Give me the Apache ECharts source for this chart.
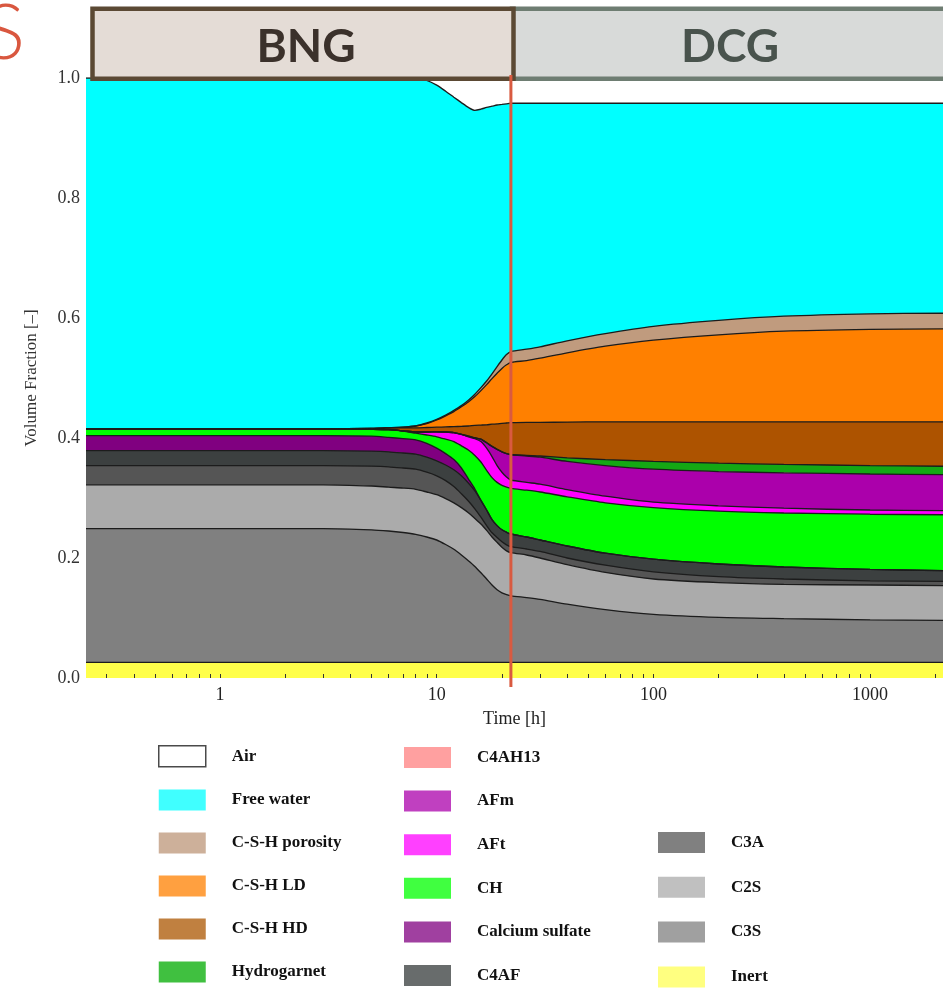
<!DOCTYPE html>
<html>
<head>
<meta charset="utf-8">
<title>Volume fractions of cement paste phases</title>
<script src="https://cdn.jsdelivr.net/npm/echarts@6/dist/echarts.min.js"></script>
<style>
  html, body { margin: 0; padding: 0; background: #ffffff; }
  #chart { width: 943px; height: 988px; }
</style>
</head>
<body>
<div id="chart"></div>
<script>
// Hydration time [h] at which the phase boundaries are sampled
const time = [0.2408, 1, 3, 5, 6, 7, 8, 9, 10, 11, 12, 13, 14, 15, 16, 17, 18, 19, 20, 21, 22, 26, 30, 40, 60, 100, 200, 400, 1000, 2170];

// Cumulative volume fraction at the upper edge of each phase layer
// (phases stacked from Inert at the bottom up to Air at the top)
const topInert        = [.026,.026,.026,.026,.026,.026,.026,.026,.026,.026,.026,.026,.026,.026,.026,.026,.026,.026,.026,.026,.026,.026,.026,.026,.026,.026,.026,.026,.026,.026];
const topC3S          = [.249,.249,.249,.247,.245,.2425,.2395,.235,.230,.2225,.2145,.205,.1955,.186,.1755,.165,.155,.147,.142,.139,.137,.134,.131,.123,.114,.106,.101,.099,.097,.096];
const topC2S          = [.322,.322,.322,.320,.318,.3165,.3145,.310,.3055,.299,.292,.284,.2755,.266,.2567,.246,.235,.226,.218,.212,.209,.205,.200,.189,.176,.165,.159,.156,.155,.154];
const topC3A          = [.354,.354,.354,.353,.352,.350,.348,.343,.337,.329,.319,.307,.295,.282,.268,.254,.242,.234,.227,.222,.219,.215,.211,.200,.188,.177,.169,.165,.162,.161];
const topC4AF         = [.379,.379,.379,.378,.377,.375,.373,.368,.362,.355,.347,.337,.325,.312,.296,.280,.264,.254,.247,.243,.240,.235,.230,.220,.208,.198,.190,.185,.181,.179];
const topCaSulfate    = [.404,.404,.404,.403,.401,.399,.397,.391,.383,.374,.364,.350,.332,.315,.296,.280,.264,.254,.247,.243,.240,.235,.230,.220,.208,.198,.190,.185,.181,.179];
const topCH           = [.415,.415,.415,.4145,.414,.4115,.408,.405,.402,.398,.394,.387,.380,.371,.360,.346,.334,.326,.321,.318,.316,.313,.310,.302,.292,.284,.278,.275,.273,.272];
const topAFt          = [.415,.415,.415,.4145,.414,.412,.410,.410,.4105,.410,.409,.406,.402,.399,.394,.383,.369,.354,.343,.335,.330,.326,.323,.314,.303,.293,.287,.283,.280,.279];
const topAFm          = [.415,.415,.415,.4145,.414,.412,.410,.410,.4105,.410,.409,.406,.403,.4005,.398,.392,.386,.381,.377,.374,.372,.370,.368,.361,.354,.348,.344,.342,.340,.339];
const topHydrogarnet  = [.415,.415,.415,.4145,.414,.412,.410,.410,.4105,.410,.409,.406,.403,.4005,.398,.392,.386,.381,.377,.374,.3725,.371,.370,.367,.364,.361,.358,.356,.354,.353];
const topCshHD        = [.415,.415,.415,.416,.417,.417,.417,.4175,.418,.4185,.419,.4195,.420,.421,.4215,.422,.423,.4235,.4245,.425,.4255,.426,.426,.4265,.427,.427,.427,.427,.427,.427];
const topCshLD        = [.415,.415,.415,.416,.417,.418,.420,.424,.430,.437,.444,.452,.460,.469,.479,.489,.499,.508,.516,.522,.526,.529,.533,.542,.553,.563,.572,.578,.581,.582];
const topCshPorosity  = [.415,.415,.415,.416,.417,.418,.420,.425,.431,.438,.446,.454,.463,.473,.484,.495,.507,.519,.530,.539,.544,.548,.552,.562,.574,.586,.596,.603,.607,.608];
const topFreeWater    = [1,1,1,1,1,1,1,.996,.988,.978,.968,.959,.951,.946,.948,.951,.953,.955,.956,.957,.958,.958,.958,.958,.958,.958,.958,.958,.958,.958];
const topAir          = [1,1,1,1,1,1,1,1,1,1,1,1,1,1,1,1,1,1,1,1,1,1,1,1,1,1,1,1,1,1];
// C4AH13 holds no volume: its layer sits directly on top of AFm
const topC4AH13       = topAFm;

// Axis ticks and labels
const timeTickValues  = [0.3,0.4,0.5,0.6,0.7,0.8,0.9,1,2,3,4,5,6,7,8,9,10,20,30,40,50,60,70,80,90,100,200,300,400,500,600,700,800,900,1000,2000];
const timeLabelValues = [1, 10, 100, 1000];
const stageChange = 22;   // end of the BNG stage [h]

// Legend columns
const legendCol1 = ['Air', 'Free water', 'C-S-H porosity', 'C-S-H LD', 'C-S-H HD', 'Hydrogarnet'];
const legendCol2 = ['C4AH13', 'AFm', 'AFt', 'CH', 'Calcium sulfate', 'C4AF'];
const legendCol3 = ['C3A', 'C2S', 'C3S', 'Inert'];

// Layers in drawing order: the top layer first, each later one painted over it
const layers = [
  { name: 'Air',             top: topAir,          fill: '#ffffff', swatch: '#ffffff', line: false },
  { name: 'Free water',      top: topFreeWater,    fill: '#00ffff', swatch: '#40ffff', line: true },
  { name: 'C-S-H porosity',  top: topCshPorosity,  fill: '#c09b7e', swatch: '#cdb09a', line: true },
  { name: 'C-S-H LD',        top: topCshLD,        fill: '#ff8000', swatch: '#ffa040', line: true },
  { name: 'C-S-H HD',        top: topCshHD,        fill: '#ad5300', swatch: '#c08040', line: true },
  { name: 'Hydrogarnet',     top: topHydrogarnet,  fill: '#14a814', swatch: '#40c040', line: true },
  { name: 'C4AH13',          top: topC4AH13,       fill: '#ff8080', swatch: '#ffa0a0', line: false },
  { name: 'AFm',             top: topAFm,          fill: '#ab00ab', swatch: '#c040c0', line: true },
  { name: 'AFt',             top: topAFt,          fill: '#ff00ff', swatch: '#ff40ff', line: true },
  { name: 'CH',              top: topCH,           fill: '#00ff00', swatch: '#40ff40', line: true },
  { name: 'Calcium sulfate', top: topCaSulfate,    fill: '#800080', swatch: '#a040a0', line: true },
  { name: 'C4AF',            top: topC4AF,         fill: '#3c4040', swatch: '#686c6c', line: true },
  { name: 'C3A',             top: topC3A,          fill: '#555555', swatch: '#808080', line: true },
  { name: 'C2S',             top: topC2S,          fill: '#ababab', swatch: '#c0c0c0', line: true },
  { name: 'C3S',             top: topC3S,          fill: '#808080', swatch: '#a0a0a0', line: true },
  { name: 'Inert',           top: topInert,        fill: '#ffff4a', swatch: '#ffff80', line: true }
];

const serif = 'Liberation Serif';
const swatchOf = {};
layers.forEach(l => { swatchOf[l.name] = l.swatch; });

function legendData(names) {
  return names.map(n => ({
    name: n,
    icon: 'rect',
    itemStyle: n === 'Air'
      ? { color: '#ffffff', borderColor: '#4a4a4a', borderWidth: 1.5 }
      : { color: swatchOf[n], borderWidth: 0 }
  }));
}

function legendBlock(names, left, top, gap) {
  return {
    orient: 'vertical',
    left: left,
    top: top,
    padding: 0,
    itemWidth: 47,
    itemHeight: 21,
    itemGap: gap,
    selectedMode: false,
    itemStyle: { borderWidth: 0 },
    textStyle: {
      fontFamily: serif,
      fontWeight: 'bold',
      fontSize: 17,
      color: '#111111',
      padding: [0, 0, 0, 21]
    },
    data: legendData(names)
  };
}

const series = layers.map(l => ({
  type: 'line',
  name: l.name,
  data: time.map((t, i) => [t, l.top[i]]),
  symbol: 'none',
  smooth: 0.25,
  silent: true,
  color: l.fill,
  lineStyle: { color: '#1c1c1c', width: l.line ? 1.35 : 0, opacity: l.line ? 1 : 0 },
  areaStyle: { color: l.fill, opacity: 1, origin: 'start' }
}));

const chart = echarts.init(document.getElementById('chart'), null, { renderer: 'canvas' });

const option = {
  animation: false,
  backgroundColor: '#ffffff',
  grid: { left: 86, right: 0, top: 78, bottom: 310, outerBoundsMode: 'none', containLabel: false },
  xAxis: {
    type: 'log',
    logBase: 10,
    min: time[0],
    max: time[time.length - 1],
    z: 10,
    axisLine: { show: false },
    axisTick: {
      show: true,
      inside: true,
      length: 4,
      customValues: timeTickValues,
      lineStyle: { color: '#333333', width: 1 }
    },
    minorTick: { show: false },
    splitLine: { show: false },
    axisLabel: {
      customValues: timeLabelValues,
      formatter: v => String(Math.round(v)),
      fontFamily: serif,
      fontSize: 18,
      color: '#222222',
      margin: 8
    },
    name: 'Time [h]',
    nameLocation: 'middle',
    nameGap: 32,
    nameTextStyle: { fontFamily: serif, fontSize: 18, color: '#222222' }
  },
  yAxis: {
    type: 'value',
    min: 0,
    max: 1,
    interval: 0.2,
    z: 10,
    axisLine: { show: false },
    axisTick: { show: false },
    splitLine: { show: false },
    axisLabel: {
      formatter: v => v.toFixed(1),
      fontFamily: serif,
      fontSize: 18,
      color: '#333333',
      margin: 6
    },
    name: 'Volume Fraction [–]',
    nameLocation: 'middle',
    nameGap: 46,
    nameTextStyle: { fontFamily: serif, fontSize: 17, color: '#333333' }
  },
  legend: [
    legendBlock(legendCol1, 158, 745, 22),
    legendBlock(legendCol2, 404, 747, 22.6),
    legendBlock(legendCol3, 658, 832, 23.8)
  ],
  graphic: [
    {
      id: 'titleTail', type: 'text', z: 100, x: 25, y: 34,
      style: { text: 'S', font: '300 76px Lato', fill: '#d9573f', align: 'right', verticalAlign: 'middle' }
    },
    {
      id: 'dcgBox', type: 'rect', z: 100,
      shape: { x: 512, y: 8.7, width: 450, height: 70 },
      style: { fill: '#d8dad9', stroke: '#6e7d72', lineWidth: 4.5 }
    },
    {
      id: 'bngBox', type: 'rect', z: 101,
      shape: { x: 92.5, y: 8.7, width: 421, height: 70 },
      style: { fill: '#e4dcd6', stroke: '#5b4934', lineWidth: 4.5 }
    },
    {
      id: 'bngText', type: 'text', z: 102, x: 306, y: 47,
      style: { text: 'BNG', font: 'bold 46px Lato', fill: '#3b312b', align: 'center', verticalAlign: 'middle' }
    },
    {
      id: 'dcgText', type: 'text', z: 102, x: 730, y: 47,
      style: { text: 'DCG', font: 'bold 46px Lato', fill: '#49534d', align: 'center', verticalAlign: 'middle' }
    }
  ],
  series: series
};

chart.setOption(option);

// Vertical marker at the change from the BNG stage to the DCG stage
const xStage = chart.convertToPixel({ xAxisIndex: 0 }, stageChange);
const yTop = chart.convertToPixel({ yAxisIndex: 0 }, 1);
const yBottom = chart.convertToPixel({ yAxisIndex: 0 }, 0);
chart.setOption({
  graphic: [{
    id: 'stageLine', type: 'line', z: 103,
    shape: { x1: xStage, y1: yTop - 3, x2: xStage, y2: yBottom + 9 },
    style: { stroke: '#d95a40', lineWidth: 3 }
  }]
});
</script>
</body>
</html>
